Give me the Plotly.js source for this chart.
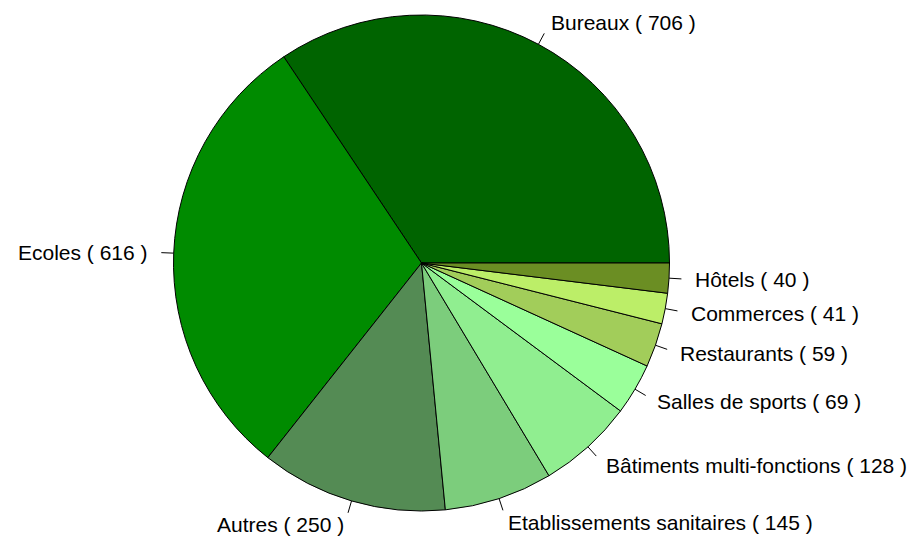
<!DOCTYPE html>
<html>
<head>
<meta charset="utf-8">
<script src="https://cdn.plot.ly/plotly-3.0.1.min.js"></script>
<style>html,body{margin:0;padding:0;background:#fff;}#chart{width:907px;height:536px;}</style>
</head>
<body>
<div id="chart"></div>
<script>
const labels = ["Bureaux", "Ecoles", "Autres", "Etablissements sanitaires", "Bâtiments multi-fonctions", "Salles de sports", "Restaurants", "Commerces", "Hôtels"];
const values = [706, 616, 250, 145, 128, 69, 59, 41, 40];
const colors = ["#006400", "#008B00", "#548B54", "#7CCD7C", "#90EE90", "#9AFF9A", "#A2CD5A", "#BCEE68", "#6B8E23"];

const W = 907, H = 536;
const cx = 421.5, cy = 263, R = 248;

const total = values.reduce((a, b) => a + b, 0);
const annotations = [];
const shapes = [];
let cum = 0;
values.forEach((v, i) => {
  const mid = (cum + v / 2) / total * 2 * Math.PI;
  cum += v;
  const c = Math.cos(mid), s = Math.sin(mid);
  shapes.push({
    type: "line", xref: "paper", yref: "paper",
    x0: (cx + R * c) / W, y0: 1 - (cy - R * s) / H,
    x1: (cx + 1.05 * R * c) / W, y1: 1 - (cy - 1.05 * R * s) / H,
    line: {color: "#000", width: 1}
  });
  annotations.push({
    xref: "paper", yref: "paper",
    x: (cx + 1.1 * R * c) / W, y: 1 - (cy - 1.1 * R * s) / H,
    text: labels[i] + " ( " + v + " )",
    showarrow: false,
    xanchor: c < 0 ? "right" : "left",
    yanchor: "middle",
    borderpad: 0,
    font: {family: "Liberation Sans, Arial, sans-serif", size: 21, color: "#000"}
  });
});

const trace = {
  type: "pie",
  labels: labels,
  values: values,
  sort: false,
  direction: "counterclockwise",
  rotation: 90 - values[0] / total * 360,
  textinfo: "none",
  hoverinfo: "none",
  marker: {colors: colors, line: {color: "#000", width: 1}},
  domain: {x: [(cx - R) / W, (cx + R) / W], y: [1 - (cy + R) / H, 1 - (cy - R) / H]},
  showlegend: false
};

Plotly.newPlot("chart", [trace], {
  width: W, height: H,
  margin: {l: 0, r: 0, t: 0, b: 0},
  paper_bgcolor: "#fff",
  showlegend: false,
  annotations: annotations,
  shapes: shapes
}, {staticPlot: true});
</script>
</body>
</html>
